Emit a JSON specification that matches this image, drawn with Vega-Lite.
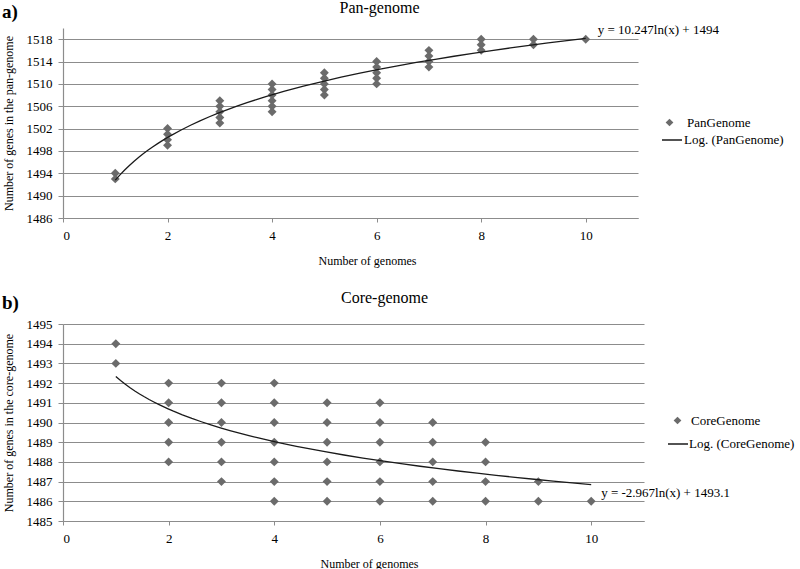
{
  "$schema": "https://vega.github.io/schema/vega-lite/v6.json",
  "padding": {"left": 2, "top": 0, "right": 0, "bottom": 0},
  "spacing": 24,
  "config": {
    "font": "Liberation Serif",
    "view": {"stroke": null},
    "axis": {"labelFont": "Liberation Serif", "titleFont": "Liberation Serif", "labelFontSize": 13, "titleFontSize": 12, "titleFontWeight": "normal", "labelColor": "#000", "titleColor": "#000", "domainColor": "#8c8c8c", "tickColor": "#8c8c8c", "gridColor": "#8c8c8c", "gridOpacity": 1, "gridWidth": 1.2, "domainWidth": 1.2, "tickCount": 30, "format": "d", "labelOverlap": false},
    "legend": {"labelFont": "Liberation Serif", "labelFontSize": 13, "labelColor": "#000", "padding": 0},
    "title": {"font": "Liberation Serif", "fontWeight": "normal", "fontSize": 16, "color": "#000"}
  },
  "datasets": {
    "pan": [
      {"series": "PanGenome", "genomes": 1, "genes": 1494}, {"series": "PanGenome", "genomes": 1, "genes": 1493},
      {"series": "PanGenome", "genomes": 2, "genes": 1502}, {"series": "PanGenome", "genomes": 2, "genes": 1501}, {"series": "PanGenome", "genomes": 2, "genes": 1500}, {"series": "PanGenome", "genomes": 2, "genes": 1499},
      {"series": "PanGenome", "genomes": 3, "genes": 1507}, {"series": "PanGenome", "genomes": 3, "genes": 1506}, {"series": "PanGenome", "genomes": 3, "genes": 1505}, {"series": "PanGenome", "genomes": 3, "genes": 1504}, {"series": "PanGenome", "genomes": 3, "genes": 1503},
      {"series": "PanGenome", "genomes": 4, "genes": 1510}, {"series": "PanGenome", "genomes": 4, "genes": 1509}, {"series": "PanGenome", "genomes": 4, "genes": 1508}, {"series": "PanGenome", "genomes": 4, "genes": 1507}, {"series": "PanGenome", "genomes": 4, "genes": 1506}, {"series": "PanGenome", "genomes": 4, "genes": 1505},
      {"series": "PanGenome", "genomes": 5, "genes": 1512}, {"series": "PanGenome", "genomes": 5, "genes": 1511}, {"series": "PanGenome", "genomes": 5, "genes": 1510}, {"series": "PanGenome", "genomes": 5, "genes": 1509}, {"series": "PanGenome", "genomes": 5, "genes": 1508},
      {"series": "PanGenome", "genomes": 6, "genes": 1514}, {"series": "PanGenome", "genomes": 6, "genes": 1513}, {"series": "PanGenome", "genomes": 6, "genes": 1512}, {"series": "PanGenome", "genomes": 6, "genes": 1511}, {"series": "PanGenome", "genomes": 6, "genes": 1510},
      {"series": "PanGenome", "genomes": 7, "genes": 1516}, {"series": "PanGenome", "genomes": 7, "genes": 1515}, {"series": "PanGenome", "genomes": 7, "genes": 1514}, {"series": "PanGenome", "genomes": 7, "genes": 1513},
      {"series": "PanGenome", "genomes": 8, "genes": 1518}, {"series": "PanGenome", "genomes": 8, "genes": 1517}, {"series": "PanGenome", "genomes": 8, "genes": 1516},
      {"series": "PanGenome", "genomes": 9, "genes": 1518}, {"series": "PanGenome", "genomes": 9, "genes": 1517},
      {"series": "PanGenome", "genomes": 10, "genes": 1518}
    ],
    "panEq": [{"genomes": 10, "genes": 1518, "label": "y = 10.247ln(x) + 1494"}],
    "core": [
      {"series": "CoreGenome", "genomes": 1, "genes": 1494}, {"series": "CoreGenome", "genomes": 1, "genes": 1493},
      {"series": "CoreGenome", "genomes": 2, "genes": 1492}, {"series": "CoreGenome", "genomes": 2, "genes": 1491}, {"series": "CoreGenome", "genomes": 2, "genes": 1490}, {"series": "CoreGenome", "genomes": 2, "genes": 1489}, {"series": "CoreGenome", "genomes": 2, "genes": 1488},
      {"series": "CoreGenome", "genomes": 3, "genes": 1492}, {"series": "CoreGenome", "genomes": 3, "genes": 1491}, {"series": "CoreGenome", "genomes": 3, "genes": 1490}, {"series": "CoreGenome", "genomes": 3, "genes": 1489}, {"series": "CoreGenome", "genomes": 3, "genes": 1488}, {"series": "CoreGenome", "genomes": 3, "genes": 1487},
      {"series": "CoreGenome", "genomes": 4, "genes": 1492}, {"series": "CoreGenome", "genomes": 4, "genes": 1491}, {"series": "CoreGenome", "genomes": 4, "genes": 1490}, {"series": "CoreGenome", "genomes": 4, "genes": 1489}, {"series": "CoreGenome", "genomes": 4, "genes": 1488}, {"series": "CoreGenome", "genomes": 4, "genes": 1487}, {"series": "CoreGenome", "genomes": 4, "genes": 1486},
      {"series": "CoreGenome", "genomes": 5, "genes": 1491}, {"series": "CoreGenome", "genomes": 5, "genes": 1490}, {"series": "CoreGenome", "genomes": 5, "genes": 1489}, {"series": "CoreGenome", "genomes": 5, "genes": 1488}, {"series": "CoreGenome", "genomes": 5, "genes": 1487}, {"series": "CoreGenome", "genomes": 5, "genes": 1486},
      {"series": "CoreGenome", "genomes": 6, "genes": 1491}, {"series": "CoreGenome", "genomes": 6, "genes": 1490}, {"series": "CoreGenome", "genomes": 6, "genes": 1489}, {"series": "CoreGenome", "genomes": 6, "genes": 1488}, {"series": "CoreGenome", "genomes": 6, "genes": 1487}, {"series": "CoreGenome", "genomes": 6, "genes": 1486},
      {"series": "CoreGenome", "genomes": 7, "genes": 1490}, {"series": "CoreGenome", "genomes": 7, "genes": 1489}, {"series": "CoreGenome", "genomes": 7, "genes": 1488}, {"series": "CoreGenome", "genomes": 7, "genes": 1487}, {"series": "CoreGenome", "genomes": 7, "genes": 1486},
      {"series": "CoreGenome", "genomes": 8, "genes": 1489}, {"series": "CoreGenome", "genomes": 8, "genes": 1488}, {"series": "CoreGenome", "genomes": 8, "genes": 1487}, {"series": "CoreGenome", "genomes": 8, "genes": 1486},
      {"series": "CoreGenome", "genomes": 9, "genes": 1487}, {"series": "CoreGenome", "genomes": 9, "genes": 1486},
      {"series": "CoreGenome", "genomes": 10, "genes": 1486}
    ],
    "coreEq": [{"genomes": 10, "genes": 1486, "label": "y = -2.967ln(x) + 1493.1"}]
  },
  "vconcat": [
    {
      "title": {"text": "a)", "anchor": "start", "frame": "bounds", "fontSize": 19, "fontWeight": "bold", "offset": 0, "dy": 22},
      "vconcat": [
        {
          "width": 575,
          "height": 190,
          "title": {"text": "Pan-genome", "offset": 8, "dx": 29},
          "layer": [
            {
              "data": {"name": "pan"},
              "mark": {"type": "point", "filled": true, "color": "#6b6b6b", "size": 80, "opacity": 1},
              "encoding": {
                "x": {"field": "genomes", "type": "quantitative", "scale": {"domain": [0, 11], "nice": false}, "axis": {"title": "Number of genomes", "grid": false, "values": [0, 2, 4, 6, 8, 10], "tickCount": 20, "format": "d", "labelFont": "Liberation Serif", "titleFont": "Liberation Serif", "tickSize": 4, "labelPadding": 7, "titlePadding": 13, "titleX": 304}},
                "y": {"field": "genes", "type": "quantitative", "scale": {"domain": [1486, 1520], "nice": false, "zero": false}, "axis": {"title": "Number of genes in the pan-genome", "grid": true, "values": [1486, 1490, 1494, 1498, 1502, 1506, 1510, 1514, 1518], "tickCount": 30, "format": "d", "labelFont": "Liberation Serif", "titleFont": "Liberation Serif", "tickSize": 5, "labelPadding": 6, "titlePadding": 11}},
                "shape": {"field": "series", "type": "nominal", "scale": {"range": ["diamond"]}, "legend": {"title": null, "orient": "none", "legendX": 600, "legendY": 88, "symbolSize": 60, "symbolFillColor": "#6b6b6b", "symbolStrokeColor": "#6b6b6b", "labelOffset": 11}}
              }
            },
            {
              "data": {"name": "pan"},
              "transform": [{"regression": "genes", "on": "genomes", "method": "log", "groupby": ["series"]}],
              "mark": {"type": "line", "strokeWidth": 1.3},
              "encoding": {
                "x": {"field": "genomes", "type": "quantitative"},
                "y": {"field": "genes", "type": "quantitative"},
                "color": {"field": "series", "type": "nominal", "scale": {"range": ["#1a1a1a"]}, "legend": {"title": null, "orient": "none", "legendX": 598, "legendY": 101, "symbolType": "stroke", "symbolSize": 400, "symbolStrokeWidth": 1.5, "labelOffset": 1, "labelExpr": "'Log. (' + datum.label + ')'"}}
              }
            },
            {
              "data": {"name": "panEq"},
              "mark": {"type": "text", "align": "left", "baseline": "middle", "dx": 12, "dy": -9, "fontSize": 13, "font": "Liberation Serif", "color": "#000"},
              "encoding": {
                "x": {"field": "genomes", "type": "quantitative"},
                "y": {"field": "genes", "type": "quantitative"},
                "text": {"field": "label"}
              }
            }
          ]
        }
      ]
    },
    {
      "title": {"text": "b)", "anchor": "start", "frame": "bounds", "fontSize": 19, "fontWeight": "bold", "offset": 0, "dy": 23},
      "vconcat": [
        {
          "width": 581,
          "height": 197,
          "title": {"text": "Core-genome", "offset": 12, "dx": 31},
          "layer": [
            {
              "data": {"name": "core"},
              "mark": {"type": "point", "filled": true, "color": "#6b6b6b", "size": 80, "opacity": 1},
              "encoding": {
                "x": {"field": "genomes", "type": "quantitative", "scale": {"domain": [0, 11], "nice": false}, "axis": {"title": "Number of genomes", "grid": false, "values": [0, 2, 4, 6, 8, 10], "tickCount": 20, "format": "d", "labelFont": "Liberation Serif", "titleFont": "Liberation Serif", "tickSize": 4, "labelPadding": 7, "titlePadding": 13, "titleX": 306}},
                "y": {"field": "genes", "type": "quantitative", "scale": {"domain": [1485, 1495], "nice": false, "zero": false}, "axis": {"title": "Number of genes in the core-genome", "grid": true, "values": [1485, 1486, 1487, 1488, 1489, 1490, 1491, 1492, 1493, 1494, 1495], "tickCount": 30, "format": "d", "labelFont": "Liberation Serif", "titleFont": "Liberation Serif", "tickSize": 5, "labelPadding": 6, "titlePadding": 11}},
                "shape": {"field": "series", "type": "nominal", "scale": {"range": ["diamond"]}, "legend": {"title": null, "orient": "none", "legendX": 608, "legendY": 90, "symbolSize": 60, "symbolFillColor": "#6b6b6b", "symbolStrokeColor": "#6b6b6b", "labelOffset": 7}}
              }
            },
            {
              "data": {"name": "core"},
              "transform": [{"regression": "genes", "on": "genomes", "method": "log", "groupby": ["series"]}],
              "mark": {"type": "line", "strokeWidth": 1.3},
              "encoding": {
                "x": {"field": "genomes", "type": "quantitative"},
                "y": {"field": "genes", "type": "quantitative"},
                "color": {"field": "series", "type": "nominal", "scale": {"range": ["#1a1a1a"]}, "legend": {"title": null, "orient": "none", "legendX": 604, "legendY": 109, "symbolType": "stroke", "symbolSize": 400, "symbolStrokeWidth": 1.5, "labelOffset": 0, "labelExpr": "'Log. (' + datum.label + ')'"}}
              }
            },
            {
              "data": {"name": "coreEq"},
              "mark": {"type": "text", "align": "left", "baseline": "middle", "dx": 10, "dy": -8, "fontSize": 13, "font": "Liberation Serif", "color": "#000"},
              "encoding": {
                "x": {"field": "genomes", "type": "quantitative"},
                "y": {"field": "genes", "type": "quantitative"},
                "text": {"field": "label"}
              }
            }
          ]
        }
      ]
    }
  ],
  "resolve": {"scale": {"color": "independent", "shape": "independent"}, "legend": {"color": "independent", "shape": "independent"}}
}
